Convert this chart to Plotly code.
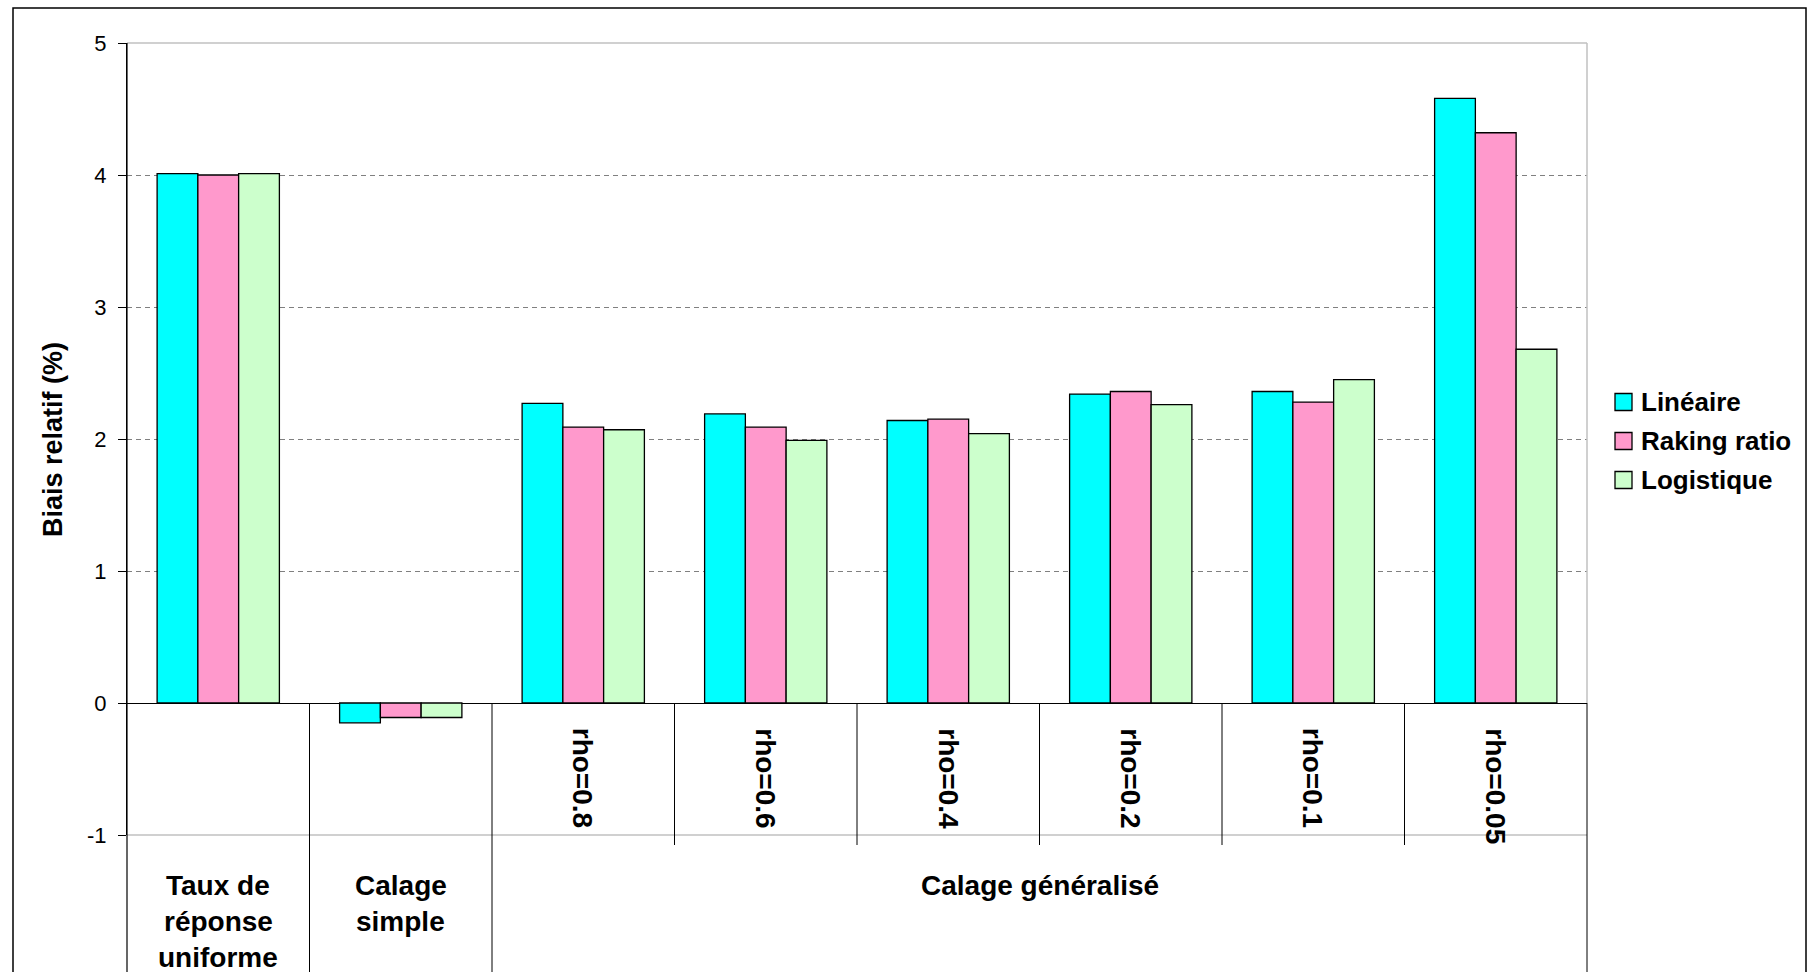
import plotly.graph_objects as go

# ---- data -------------------------------------------------------------
categories = ["Taux de réponse uniforme", "Calage simple",
              "rho=0.8", "rho=0.6", "rho=0.4", "rho=0.2", "rho=0.1", "rho=0.05"]
series_names = ["Linéaire", "Raking ratio", "Logistique"]
lineaire = [4.01, -0.15, 2.27, 2.19, 2.14, 2.34, 2.36, 4.58]
raking_ratio = [4.00, -0.11, 2.09, 2.09, 2.15, 2.36, 2.28, 4.32]
logistique = [4.01, -0.11, 2.07, 1.99, 2.04, 2.26, 2.45, 2.68]
y_ticks = [-1, 0, 1, 2, 3, 4, 5]
y_title = "Biais relatif (%)"
# labels written horizontally under the axis (one entry per line)
stacked_labels = {0: ["Taux de", "réponse", "uniforme"], 1: ["Calage", "simple"]}
# outer group spanning the rho categories
outer_group = ("Calage généralisé", 2, 8)

# ---- styling ----------------------------------------------------------
colors = ["#00FFFF", "#FF99CC", "#CCFFCC"]
FONT = "Arial, 'Liberation Sans', sans-serif"
W, H = 1810, 972
ML, MR, MT, MB = 127, 223, 43, 137
PW, PH = W - ML - MR, H - MT - MB
YMIN, YMAX = y_ticks[0], y_ticks[-1]
NCAT = len(categories)


def xp(px):
    """pixel x -> paper x"""
    return (px - ML) / PW


def yp(py):
    """pixel y -> paper y"""
    return (H - MB - py) / PH


def yv(v):
    """data y -> paper y"""
    return (v - YMIN) / (YMAX - YMIN)


fig = go.Figure()
for name, vals, col in zip(series_names, [lineaire, raking_ratio, logistique], colors):
    fig.add_trace(go.Bar(
        x=categories, y=vals, name=name,
        marker=dict(color=col, line=dict(color="black", width=1.3)),
        showlegend=False,
    ))

shapes = []
annotations = []

# plot-area border (light grey) at top, right and bottom
grey = "#C0C0C0"
shapes.append(dict(type="line", xref="paper", yref="paper", x0=0, x1=1, y0=1, y1=1,
                   line=dict(color=grey, width=1.5)))
shapes.append(dict(type="line", xref="paper", yref="paper", x0=1, x1=1, y0=yv(0), y1=1,
                   line=dict(color=grey, width=1.5)))
shapes.append(dict(type="line", xref="paper", yref="paper", x0=0, x1=1, y0=0, y1=0,
                   line=dict(color=grey, width=1.5)))

# category separators below the axis
for k in range(1, NCAT + 1):
    long_line = k in (1, outer_group[1], NCAT)
    shapes.append(dict(type="line", xref="paper", yref="paper",
                       x0=k / NCAT, x1=k / NCAT, y0=yv(0),
                       y1=-0.3 if long_line else yp(845),
                       line=dict(color="black", width=1)))
# y axis line continued through the label area
shapes.append(dict(type="line", xref="paper", yref="paper", x0=0, x1=0, y0=1, y1=-0.3,
                   line=dict(color="black", width=1.2)))

# outer chart frame
shapes.append(dict(type="rect", xref="paper", yref="paper",
                   x0=xp(13), x1=xp(1806), y0=-0.3, y1=yp(8),
                   line=dict(color="black", width=1.5), fillcolor="rgba(0,0,0,0)"))


def bold(size):
    return dict(family=FONT, size=size, color="black")


# rotated rho labels next to the axis
for i, cat in enumerate(categories):
    if i in stacked_labels:
        continue
    annotations.append(dict(text=f"<b>{cat}</b>", xref="paper", yref="paper",
                            x=(i + 0.5) / NCAT, y=yp(726), xanchor="center", yanchor="top",
                            textangle=90, showarrow=False, font=bold(28)))

# horizontal multi-line labels
line_y = [885, 921, 957]
for i, lines in stacked_labels.items():
    for j, ln in enumerate(lines):
        annotations.append(dict(text=f"<b>{ln}</b>", xref="paper", yref="paper",
                                x=(i + 0.5) / NCAT, y=yp(line_y[j]),
                                xanchor="center", yanchor="middle",
                                showarrow=False, font=bold(28)))

# outer group label
g_text, g_start, g_end = outer_group
annotations.append(dict(text=f"<b>{g_text}</b>", xref="paper", yref="paper",
                        x=(g_start + g_end) / 2 / NCAT, y=yp(885),
                        xanchor="center", yanchor="middle", showarrow=False, font=bold(28)))

# y-axis title
annotations.append(dict(text=f"<b>{y_title}</b>", xref="paper", yref="paper",
                        x=xp(53), y=yp(440), xanchor="center", yanchor="middle",
                        textangle=-90, showarrow=False, font=bold(27)))

# legend: coloured squares with labels
leg_y = [402, 441, 480]
for name, col, cy in zip(series_names, colors, leg_y):
    shapes.append(dict(type="rect", xref="paper", yref="paper",
                       x0=xp(1615), x1=xp(1632), y0=yp(cy + 8.5), y1=yp(cy - 8.5),
                       fillcolor=col, line=dict(color="black", width=1.3)))
    annotations.append(dict(text=f"<b>{name}</b>", xref="paper", yref="paper",
                            x=xp(1639), y=yp(cy), xanchor="left", yanchor="middle",
                            showarrow=False, font=bold(26)))

fig.update_layout(
    width=W, height=H,
    margin=dict(l=ML, r=MR, t=MT, b=MB, autoexpand=False),
    paper_bgcolor="white", plot_bgcolor="white",
    barmode="group", bargap=0.33, bargroupgap=0,
    shapes=shapes, annotations=annotations,
    font=dict(family=FONT, color="black"),
    showlegend=False,
)
fig.update_xaxes(
    type="category", range=[-0.5, NCAT - 0.5],
    showticklabels=False, ticks="", showline=False, showgrid=False, zeroline=False,
)
fig.update_yaxes(
    range=[YMIN, YMAX], tickvals=y_ticks, ticktext=[str(t) for t in y_ticks],
    ticks="outside", ticklen=8, tickcolor="black", tickwidth=1,
    tickfont=dict(family=FONT, size=22, color="black"), ticklabelstandoff=7,
    showline=True, linecolor="black", linewidth=1.2,
    showgrid=True, gridcolor="#808080", gridwidth=1, griddash="5px,4px",
    zeroline=True, zerolinecolor="black", zerolinewidth=1.2,
    automargin=False,
)

fig.write_html("out.html")
